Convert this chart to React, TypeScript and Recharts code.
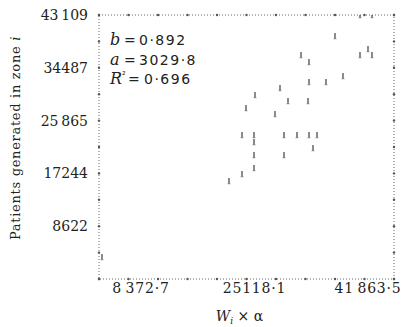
import React from 'react';
import { ScatterChart, Scatter, XAxis, YAxis, ReferenceArea, ReferenceDot } from 'recharts';

// Data (W_i x alpha, patients generated in zone i)
const xValues = [2619, 21356, 23274, 25044, 25044, 25044, 25044, 23274, 23864, 25192, 28143, 28880, 29471, 29471, 30061, 31388, 31979, 33159, 33159, 33012, 33159, 34339, 33749, 35667, 36995, 38175, 40683, 41864, 42454, 40683, 42454];
const yValues = [3592, 16003, 17146, 18126, 20248, 22371, 23514, 23514, 27923, 30046, 26943, 31189, 23514, 20248, 29066, 23514, 36577, 35434, 32169, 29066, 23514, 23514, 21391, 32169, 39680, 33148, 36577, 37557, 36577, 43109, 43109];

const xDomain = [2176, 45700];
const yDomain = [0, 43109];
const xMajorTicks = [8372.7, 25118.1, 41863.5];
const xMajorLabels = ['8\u2009372·7', '25118·1', '41\u2009863·5'];
const yMajorTicks = [8622, 17244, 25865, 34487, 43109];
const yMajorLabels = ['8622', '17244', '25\u2009865', '34487', '43\u2009109'];
const xMinorTicks = [2176, 6528, 10881, 15233, 19586, 23938, 28290, 32643, 36995, 41348, 45700];
const yMinorTicks = [0, 4311, 8622, 12933, 17244, 21554, 25865, 30176, 34487, 38798, 43109];

const statNames = ['b', 'a', 'R'];
const statSups = ['', '', '²'];
const statValues = ['0·892', '3029·8', '0·696'];

const data = xValues.map((x, i) => ({ x, y: yValues[i] }));

const SERIF = '"DejaVu Serif", "Liberation Serif", serif';
const SANS = '"DejaVu Sans", "Liberation Sans", sans-serif';
const INK = '#222';
const DOT = '#555';

const BottomTick = (props: any) => {
  const { x, y, payload } = props;
  const i = xMajorTicks.indexOf(payload.value);
  return (
    <text x={x} y={y + 14} textAnchor="middle" fontFamily={SERIF} fontSize={14} letterSpacing={0.8} fill={INK}>
      {i >= 0 ? xMajorLabels[i] : ''}
    </text>
  );
};

const LeftTick = (props: any) => {
  const { x, y, payload } = props;
  const i = yMajorTicks.indexOf(payload.value);
  return (
    <text x={x - 11} y={y + 5} textAnchor="end" fontFamily={SERIF} fontSize={14} fill={INK}>
      {i >= 0 ? yMajorLabels[i] : ''}
    </text>
  );
};

const Mark = (props: any) => {
  const { cx, cy } = props;
  return (
    <g>
      <rect x={cx - 0.7} y={cy - 3} width={1.4} height={6} fill="#5a5a5a" />
      <rect x={cx - 1.5} y={cy + 2.4} width={3} height={0.8} fill="#888" />
    </g>
  );
};

const YTitle = (props: any) => {
  const vb = props.viewBox || { x: 0, y: 15, width: 99, height: 264 };
  const cx = vb.x + 20;
  const cy = vb.y + vb.height / 2 - 9;
  return (
    <text
      x={cx}
      y={cy}
      transform={`rotate(-90 ${cx} ${cy})`}
      textAnchor="middle"
      fontFamily={SERIF}
      fontSize={13}
      letterSpacing={0.7}
      fill={INK}
    >
      Patients generated in zone <tspan fontStyle="italic">i</tspan>
    </text>
  );
};

const XTitle = (props: any) => {
  const vb = props.viewBox || { x: 99, y: 279, width: 295, height: 48 };
  const cx = vb.x + vb.width / 2 - 7;
  const by = vb.y + 42;
  return (
    <text x={cx} y={by} textAnchor="middle" fontFamily={SERIF} fontSize={14} fill={INK}>
      <tspan fontStyle="italic">W</tspan>
      <tspan fontStyle="italic" fontSize={9} dy={3}>i</tspan>
      <tspan dy={-3}> × α</tspan>
    </text>
  );
};

export default function App() {
  const dotProps = { r: 1.2, fill: DOT, stroke: 'none', ifOverflow: 'visible' as const };
  return (
    <div style={{ position: 'absolute', left: 0, top: 0, width: 406, height: 327, background: '#fff' }}>
      <ScatterChart width={406} height={327} margin={{ top: 15, right: 12, bottom: 0, left: 0 }}>
        <ReferenceArea
          x1={xDomain[0]}
          x2={xDomain[1]}
          y1={yDomain[0]}
          y2={yDomain[1]}
          fill="none"
          fillOpacity={0}
          stroke="#666"
          strokeWidth={1}
          strokeDasharray="1 2"
          ifOverflow="visible"
        />
        {xMinorTicks.map((v) => (
          <ReferenceDot key={`b${v}`} x={v} y={yDomain[0]} {...dotProps} />
        ))}
        {xMinorTicks.map((v) => (
          <ReferenceDot key={`t${v}`} x={v} y={yDomain[1]} {...dotProps} />
        ))}
        {yMinorTicks.map((v) => (
          <ReferenceDot key={`l${v}`} x={xDomain[0]} y={v} {...dotProps} />
        ))}
        {yMinorTicks.map((v) => (
          <ReferenceDot key={`r${v}`} x={xDomain[1]} y={v} {...dotProps} />
        ))}
        <XAxis
          type="number"
          dataKey="x"
          domain={xDomain}
          allowDataOverflow
          ticks={[...xMajorTicks]}
          interval={0}
          tick={BottomTick}
          tickLine={false}
          tickSize={0}
          tickMargin={0}
          axisLine={false}
          height={48}
          label={XTitle}
        />
        <YAxis
          type="number"
          dataKey="y"
          domain={yDomain}
          allowDataOverflow
          ticks={[...yMajorTicks]}
          interval={0}
          tick={LeftTick}
          tickLine={false}
          tickSize={0}
          tickMargin={0}
          axisLine={false}
          width={99}
          label={YTitle}
        />
        <Scatter data={data} shape={Mark} isAnimationActive={false} />
      </ScatterChart>
      <svg width={406} height={327} style={{ position: 'absolute', left: 0, top: 0, pointerEvents: 'none' }}>
        {statNames.map((n, i) => (
          <text key={n} y={45 + i * 19.5} fontSize={14} letterSpacing={1.5} fill={INK} fontFamily={SANS}>
            <tspan x={110} fontFamily={SERIF} fontStyle="italic" fontSize={16} letterSpacing={0}>{n}</tspan>
            {statSups[i] ? <tspan fontSize={9} dy={-6}>{statSups[i]}</tspan> : null}
            <tspan x={statSups[i] ? 128 : 124} dy={statSups[i] ? 6 : 0}>=</tspan>
            <tspan x={statSups[i] ? 144 : 139}>{statValues[i]}</tspan>
          </text>
        ))}
      </svg>
    </div>
  );
}
